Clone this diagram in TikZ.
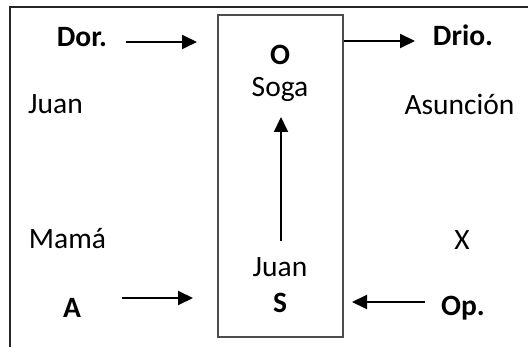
\documentclass[tikz,border=0pt]{standalone}
\usepackage{fontspec}
\setmainfont{Carlito}
\usetikzlibrary{arrows.meta}
\tikzset{
  lbl/.style={anchor=base, inner sep=0pt, font=\fontsize{29.5}{35}\selectfont},
  blbl/.style={lbl, font=\fontsize{29.5}{35}\selectfont\bfseries},
  arr/.style={line width=2pt, -{Triangle[length=15pt,width=14pt]}},
  frame/.style={line width=1.5pt, draw=black!85},
  inbox/.style={draw=black!70, line width=1.2pt, minimum width=125pt, minimum height=322pt, inner sep=0pt}
}
\begin{document}
\begin{tikzpicture}[x=1pt,y=-1pt]
\useasboundingbox (0,0) rectangle (528,347);
\draw[frame] (10,347) -- (10,7) -- (528,7);
\node[inbox] (box) at (280.5,176) {};
\node[blbl] (dor) at (82,47) {Dor.};
\node[lbl] (juanL) at (55.5,114) {Juan};
\node[blbl] (O) at (280,65) {O};
\node[lbl] (soga) at (280,97) {Soga};
\node[blbl] (drio) at (463,46) {Drio.};
\node[lbl] (asun) at (459.5,115) {Asunción};
\node[lbl] (mama) at (67.5,249) {Mamá};
\node[lbl] (X) at (462,250) {X};
\node[lbl] (juanC) at (280,277) {Juan};
\node[blbl] (S) at (280,313) {S};
\node[blbl] (A) at (72,318) {A};
\node[blbl] (op) at (463,316) {Op.};
\coordinate (dorS) at (126,42);
\coordinate (dorE) at (197,42);
\coordinate (drioS) at (box.east |- 0,41);
\coordinate (drioE) at (415,41);
\coordinate (aS) at (122,298);
\coordinate (aE) at (193,298);
\coordinate (opS) at (425,302);
\coordinate (opE) at (352,302);
\coordinate (upS) at (281,241);
\coordinate (upE) at (281,117);
\draw[arr] (dorS) -- (dorE);
\draw[arr] (drioS) -- (drioE);
\draw[arr] (aS) -- (aE);
\draw[arr] (opS) -- (opE);
\draw[arr] (upS) -- (upE);
\end{tikzpicture}
\end{document}
